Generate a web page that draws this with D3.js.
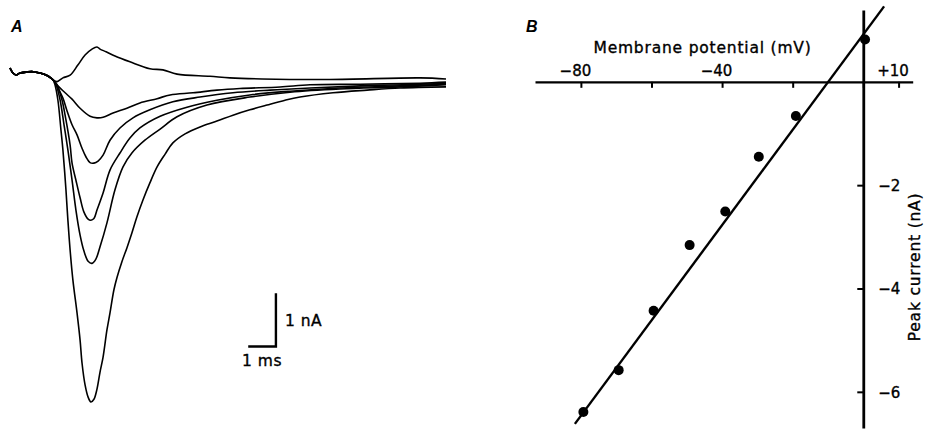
<!DOCTYPE html>
<html><head><meta charset="utf-8">
<script src="https://cdn.jsdelivr.net/npm/d3@7"></script>
<style>
html,body{margin:0;padding:0;background:#fff;}
svg{display:block;}
text{font-family:"DejaVu Sans",sans-serif;fill:#000;stroke:#000;stroke-width:0.35px;}
</style></head>
<body>
<svg id="c" width="925" height="429"></svg>
<script>
// ---------- Panel A: current traces (time ms, current nA) ----------
const preStim = [[0,0.075],[0.108,-0.019],[0.217,-0.056],[0.361,-0.019],[0.614,0],[0.83,0.006],[1.083,-0.019],[1.30,-0.056],[1.48,-0.113],[1.56,-0.15]];
const traceOut = [[1.70,-0.18],[1.91,-0.11],[2.17,-0.06],[2.45,0.13],[2.71,0.32],[2.96,0.43],[3.14,0.47],[3.25,0.43],[3.47,0.38],[3.79,0.30],[4.33,0.19],[5.05,0.06],[5.52,0.04],[6.03,-0.04],[7.22,-0.08],[7.94,-0.11],[9.10,-0.13],[11.55,-0.14],[14.80,-0.11],[15.74,-0.13]];
const trace2 = [[1.73,-0.26],[1.99,-0.39],[2.24,-0.51],[2.53,-0.68],[2.89,-0.83],[3.14,-0.86],[3.36,-0.85],[3.72,-0.77],[4.22,-0.68],[4.69,-0.58],[5.31,-0.50],[5.78,-0.43],[6.61,-0.39],[7.47,-0.34],[8.30,-0.31],[9.75,-0.28],[10.83,-0.24],[12.64,-0.23],[14.80,-0.21],[15.74,-0.19]];
const trace3 = [[1.73,-0.30],[1.91,-0.49],[2.06,-0.73],[2.24,-0.99],[2.42,-1.18],[2.60,-1.43],[2.74,-1.59],[2.89,-1.70],[3.03,-1.71],[3.18,-1.67],[3.36,-1.56],[3.61,-1.28],[3.97,-1.05],[4.44,-0.86],[5.05,-0.71],[5.88,-0.56],[6.86,-0.47],[8.05,-0.39],[9.39,-0.34],[10.83,-0.30],[12.64,-0.26],[14.80,-0.23],[15.74,-0.21]];
const trace4 = [[1.70,-0.24],[1.88,-0.53],[2.02,-0.90],[2.17,-1.37],[2.24,-1.71],[2.38,-2.03],[2.53,-2.36],[2.67,-2.63],[2.82,-2.76],[2.92,-2.78],[3.03,-2.75],[3.14,-2.59],[3.36,-2.27],[3.61,-1.84],[3.97,-1.52],[4.33,-1.24],[4.69,-1.05],[5.42,-0.83],[6.39,-0.66],[7.47,-0.53],[8.66,-0.43],[10.11,-0.36],[11.91,-0.30],[14.08,-0.26],[15.74,-0.23]];
const trace5 = [[1.66,-0.23],[1.81,-0.53],[1.95,-0.99],[2.09,-1.46],[2.24,-2.03],[2.38,-2.59],[2.53,-3.06],[2.67,-3.36],[2.82,-3.55],[2.96,-3.59],[3.10,-3.51],[3.25,-3.28],[3.50,-2.83],[3.79,-2.21],[4.08,-1.78],[4.40,-1.52],[4.87,-1.28],[5.42,-1.07],[6.03,-0.84],[7.11,-0.62],[8.66,-0.47],[10.11,-0.38],[11.91,-0.32],[14.08,-0.28],[15.74,-0.24]];
const trace6 = [[1.62,-0.23],[1.73,-0.53],[1.84,-1.09],[1.91,-1.46],[2.02,-2.21],[2.09,-2.78],[2.17,-3.34],[2.27,-3.90],[2.42,-4.52],[2.53,-5.03],[2.60,-5.46],[2.71,-5.87],[2.82,-6.10],[2.92,-6.19],[3.03,-6.14],[3.14,-5.95],[3.25,-5.63],[3.36,-5.35],[3.50,-4.84],[3.61,-4.52],[3.75,-4.09],[3.86,-3.86],[4.04,-3.56],[4.22,-3.30],[4.40,-3.02],[4.58,-2.72],[4.80,-2.40],[5.05,-2.08],[5.31,-1.78],[5.60,-1.54],[5.88,-1.33],[6.32,-1.16],[6.86,-1.03],[7.47,-0.92],[8.05,-0.81],[8.66,-0.71],[9.28,-0.62],[9.93,-0.53],[10.47,-0.47],[11.66,-0.39],[12.89,-0.34],[14.08,-0.30],[15.74,-0.28]];
const tracesA = [traceOut, trace2, trace3, trace4, trace5, trace6];
const scaleBarCorner = [9.6, -5.15];   // ms, nA
const scaleBarSize = [1, 1];           // 1 ms, 1 nA
const scaleBarLabels = ["1 ms", "1 nA"];

// ---------- Panel B: I-V relation ----------
const membraneV = [-79.3, -69.3, -59.4, -49.2, -39.1, -29.6, -19.1, 0.5];
const peakI     = [-6.39, -5.58, -4.43, -3.16, -2.51, -1.45, -0.66, 0.82];
const fitV = [-81.7, 5.9];
const fitI = [-6.62, 1.46];
const xTickValues = [-80, -60, -40, -20, 0, 10];
const xTickLabels = ["\u221280", "", "\u221240", "", "", "+10"];
const yTickValues = [-2, -4, -6];
const yTickLabels = ["\u22122", "\u22124", "\u22126"];
const xTitle = "Membrane potential (mV)";
const yTitle = "Peak current (nA)";
const panelLabels = ["A", "B"];

const svg = d3.select("#c");

// ---- Panel A ----
const xA = d3.scaleLinear().domain([0, 1]).range([10, 37.7]);
const yA = d3.scaleLinear().domain([0, 1]).range([72, 18.7]);
const lineA = d3.line().x(d => xA(d[0])).y(d => yA(d[1])).curve(d3.curveCatmullRom.alpha(0.5));
const gA = svg.append("g");
tracesA.forEach(tr => {
  gA.append("path").datum(preStim.concat(tr)).attr("d", lineA)
    .attr("fill", "none").attr("stroke", "#000").attr("stroke-width", 1.6).attr("stroke-linejoin", "round");
});
// scale bar
const sb = gA.append("g").attr("stroke", "#000").attr("stroke-width", 2.4).attr("fill", "none");
sb.append("path").attr("d", d3.line()([
  [xA(scaleBarCorner[0] - scaleBarSize[0]), yA(scaleBarCorner[1])],
  [xA(scaleBarCorner[0]), yA(scaleBarCorner[1])],
  [xA(scaleBarCorner[0]), yA(scaleBarCorner[1] + scaleBarSize[1])]
]));
gA.append("text").attr("x", xA(scaleBarCorner[0] - scaleBarSize[0] / 2)).attr("y", yA(scaleBarCorner[1]) + 20)
  .attr("text-anchor", "middle").style("font-size", "15.5px").style("letter-spacing", "0.5px").text(scaleBarLabels[0]);
gA.append("text").attr("x", xA(scaleBarCorner[0]) + 9).attr("y", yA(scaleBarCorner[1] + scaleBarSize[1] / 2) + 6)
  .attr("text-anchor", "start").style("font-size", "15.5px").style("letter-spacing", "0.5px").text(scaleBarLabels[1]);

// ---- Panel B ----
const xB = d3.scaleLinear().domain([-93, 14]).range([535, 912.7]);
const yB = d3.scaleLinear().domain([1.39, -6.7]).range([10, 428]);
const gB = svg.append("g");

const xAxis = d3.axisBottom(xB).tickValues(xTickValues).tickSize(6).tickSizeOuter(0)
  .tickFormat((d, i) => xTickLabels[i]);
const gx = gB.append("g").attr("transform", `translate(0,${yB(0)})`).call(xAxis);
gx.select(".domain").attr("stroke-width", 2.2);
gx.selectAll(".tick line").attr("stroke-width", 2);
gx.selectAll(".tick text").attr("y", -6).attr("dy", 0).attr("dx", -6)
  .style("font-size", "15px").style("font-family", "DejaVu Sans, sans-serif");

const yAxis = d3.axisLeft(yB).tickValues(yTickValues).tickSize(6).tickSizeOuter(0)
  .tickFormat((d, i) => yTickLabels[i]);
const gy = gB.append("g").attr("transform", `translate(${xB(0)},0)`).call(yAxis);
gy.select(".domain").attr("stroke-width", 2.8);
gy.selectAll(".tick line").attr("stroke-width", 2);
gy.selectAll(".tick text").attr("x", 15).attr("dy", "0.35em").attr("text-anchor", "start")
  .style("font-size", "15px").style("font-family", "DejaVu Sans, sans-serif");

// fitted line
gB.append("path").datum(fitV.map((v, i) => [v, fitI[i]]))
  .attr("d", d3.line().x(d => xB(d[0])).y(d => yB(d[1])))
  .attr("stroke", "#000").attr("stroke-width", 2.4).attr("fill", "none");

// points
gB.selectAll("circle.pt").data(membraneV.map((v, i) => [v, peakI[i]])).enter()
  .append("circle").attr("class", "pt")
  .attr("cx", d => xB(d[0])).attr("cy", d => yB(d[1])).attr("r", 5).attr("fill", "#000");

// titles
gB.append("text").attr("x", 702.5).attr("y", 53).attr("text-anchor", "middle")
  .style("font-size", "15.5px").style("letter-spacing", "0.8px").text(xTitle);
gB.append("text").attr("transform", "translate(920,267) rotate(-90)").attr("text-anchor", "middle")
  .style("font-size", "15.5px").style("letter-spacing", "0.8px").text(yTitle);

// panel letters
svg.append("text").attr("x", 11).attr("y", 32)
  .style("font-family", "Liberation Sans, Arial, sans-serif").style("font-style", "italic").style("font-weight", "bold")
  .style("font-size", "16px").style("stroke-width", "0").text(panelLabels[0]);
svg.append("text").attr("x", 526).attr("y", 32)
  .style("font-family", "Liberation Sans, Arial, sans-serif").style("font-style", "italic").style("font-weight", "bold")
  .style("font-size", "16px").style("stroke-width", "0").text(panelLabels[1]);
</script>
</body></html>
